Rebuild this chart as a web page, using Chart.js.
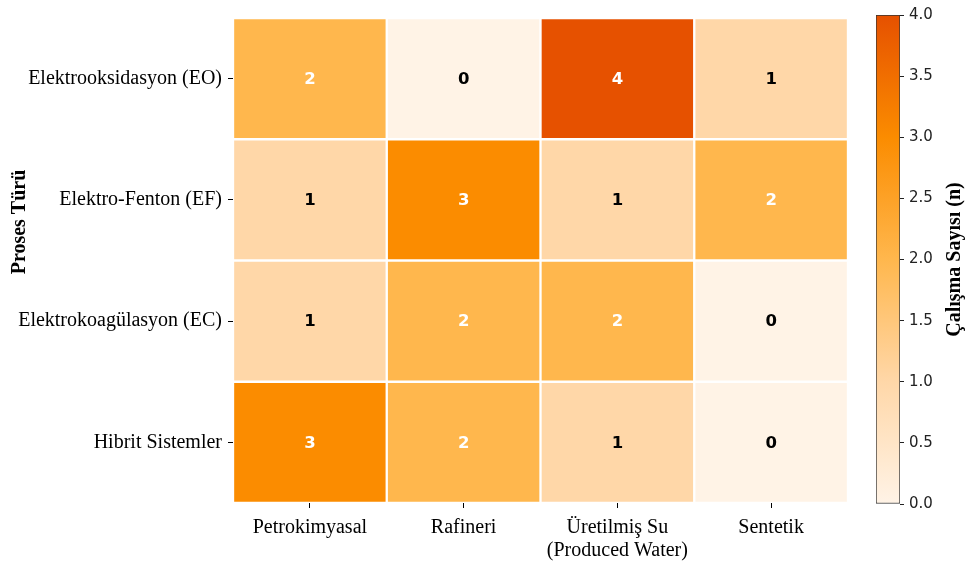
<!DOCTYPE html>
<html>
<head>
<meta charset="utf-8">
<script src="https://cdn.jsdelivr.net/npm/chart.js@4/dist/chart.umd.min.js"></script>
<style>
  html, body { margin: 0; padding: 0; background: #ffffff; }
  #wrap { position: relative; width: 967px; height: 567px; }
  canvas { position: absolute; left: 0; top: 0; }
</style>
</head>
<body>
<div id="wrap">
  <canvas id="heat" width="967" height="567"></canvas>
  <canvas id="cbar" width="967" height="567"></canvas>
</div>
<script>
// ---------- DATA ----------
const columns = ['Petrokimyasal', 'Rafineri', ['Üretilmiş Su', '(Produced Water)'], 'Sentetik'];
const processes = ['Elektrooksidasyon (EO)', 'Elektro-Fenton (EF)', 'Elektrokoagülasyon (EC)', 'Hibrit Sistemler'];
const countsEO = [2, 0, 4, 1];
const countsEF = [1, 3, 1, 2];
const countsEC = [1, 2, 2, 0];
const countsHybrid = [3, 2, 1, 0];
const colorbarRange = [0, 4];
const colorbarStep = 0.5;
const colorStops = ['#fff3e6', '#ffd7a8', '#ffb74d', '#fb8c00', '#e65100'];
const yTitle = 'Proses Türü';
const cbTitle = 'Çalışma Sayısı (n)';

const matrix = [countsEO, countsEF, countsEC, countsHybrid];

// ---------- helpers ----------
function hexToRgb(h) {
  const n = parseInt(h.slice(1), 16);
  return [(n >> 16) & 255, (n >> 8) & 255, n & 255];
}
function colorFor(v) {
  const t = (v - colorbarRange[0]) / (colorbarRange[1] - colorbarRange[0]);
  const pos = Math.max(0, Math.min(1, t)) * (colorStops.length - 1);
  const i = Math.min(colorStops.length - 2, Math.floor(pos));
  const f = pos - i;
  const a = hexToRgb(colorStops[i]), b = hexToRgb(colorStops[i + 1]);
  const c = a.map((x, k) => Math.round(x + (b[k] - x) * f));
  return `rgb(${c[0]},${c[1]},${c[2]})`;
}

const nRows = processes.length;
const datasets = matrix.map((row, r) => ({
  label: processes[r],
  counts: row,
  data: row.map(() => [nRows - 1 - r, nRows - r]),
  backgroundColor: row.map(v => colorFor(v)),
  borderColor: '#ffffff',
  borderWidth: 1.5,
  borderSkipped: false,
  barPercentage: 1,
  categoryPercentage: 1,
  grouped: false
}));

const rowLabelsBottomUp = processes.slice().reverse();

const annotate = {
  id: 'annotate',
  afterDatasetsDraw(chart) {
    const ctx = chart.ctx;
    ctx.save();
    ctx.font = 'bold 16.5px "DejaVu Sans"';
    ctx.textAlign = 'center';
    ctx.textBaseline = 'middle';
    chart.data.datasets.forEach((ds, i) => {
      const meta = chart.getDatasetMeta(i);
      meta.data.forEach((el, j) => {
        const v = ds.counts[j];
        ctx.fillStyle = v >= 2 ? '#ffffff' : '#000000';
        ctx.fillText(String(v), el.x, (el.y + el.base) / 2 + 1);
      });
    });
    // y axis title
    ctx.translate(20, 222);
    ctx.rotate(-Math.PI / 2);
    ctx.font = 'bold 20px "Liberation Serif"';
    ctx.fillStyle = '#000000';
    ctx.fillText(yTitle, 0, 0);
    ctx.restore();
  }
};

new Chart(document.getElementById('heat'), {
  type: 'bar',
  data: { labels: columns, datasets },
  options: {
    responsive: false,
    devicePixelRatio: 1,
    animation: false,
    layout: { padding: { top: 15, right: 119, bottom: 0, left: 0 } },
    plugins: { legend: { display: false }, tooltip: { enabled: false } },
    scales: {
      x: {
        type: 'category',
        offset: true,
        afterFit(s) { s.height = 64; },
        grid: { offset: false, drawOnChartArea: false, drawTicks: true, tickLength: 5, color: '#000000', lineWidth: 1 },
        border: { display: false },
        ticks: { color: '#000000', padding: 9, font: { family: '"Liberation Serif"', size: 20, lineHeight: 1.12 }, maxRotation: 0, autoSkip: false }
      },
      y: {
        type: 'linear',
        min: 0,
        max: nRows,
        afterFit(s) { s.width = 233; },
        afterBuildTicks(s) { s.ticks = rowLabelsBottomUp.map((_, i) => ({ value: i + 0.5 })); },
        grid: { drawOnChartArea: false, drawTicks: true, tickLength: 5, color: '#000000', lineWidth: 1 },
        border: { display: false },
        ticks: {
          color: '#000000', padding: 6, autoSkip: false,
          font: { family: '"Liberation Serif"', size: 20 },
          callback(value, index) { return rowLabelsBottomUp[index]; }
        }
      }
    }
  },
  plugins: [annotate]
});

// ---------- colorbar ----------
const cbLabel = {
  id: 'cbLabel',
  afterDraw(chart) {
    const ctx = chart.ctx;
    ctx.save();
    ctx.translate(955, (chart.chartArea.top + chart.chartArea.bottom) / 2);
    ctx.rotate(-Math.PI / 2);
    ctx.font = 'bold 20px "Liberation Serif"';
    ctx.fillStyle = '#000000';
    ctx.textAlign = 'center';
    ctx.textBaseline = 'middle';
    ctx.fillText(cbTitle, 0, 0);
    ctx.restore();
  }
};

new Chart(document.getElementById('cbar'), {
  type: 'bar',
  data: {
    labels: ['cb'],
    datasets: [{
      data: [colorbarRange.slice()],
      backgroundColor(c) {
        const chart = c.chart;
        const area = chart.chartArea;
        if (!area) return colorStops[0];
        const ys = chart.scales.y;
        const g = chart.ctx.createLinearGradient(0, ys.getPixelForValue(colorbarRange[0]), 0, ys.getPixelForValue(colorbarRange[1]));
        colorStops.forEach((col, i) => g.addColorStop(i / (colorStops.length - 1), col));
        return g;
      },
      borderColor: '#333333',
      borderWidth: 1,
      borderSkipped: false,
      barPercentage: 1,
      categoryPercentage: 1
    }]
  },
  options: {
    responsive: false,
    devicePixelRatio: 1,
    animation: false,
    layout: { padding: { top: 15, right: 17, bottom: 63, left: 876 } },
    plugins: { legend: { display: false }, tooltip: { enabled: false } },
    scales: {
      x: { display: false },
      y: {
        position: 'right',
        min: colorbarRange[0],
        max: colorbarRange[1],
        afterFit(s) { s.width = 50; },
        grid: { drawOnChartArea: false, drawTicks: true, tickLength: 4, color: '#222222' },
        border: { display: false },
        ticks: {
          stepSize: colorbarStep,
          color: '#222222',
          padding: 5,
          font: { family: '"DejaVu Sans"', size: 15 },
          callback(v) { return Number(v).toFixed(1); }
        }
      }
    }
  },
  plugins: [cbLabel]
});
</script>
</body>
</html>
